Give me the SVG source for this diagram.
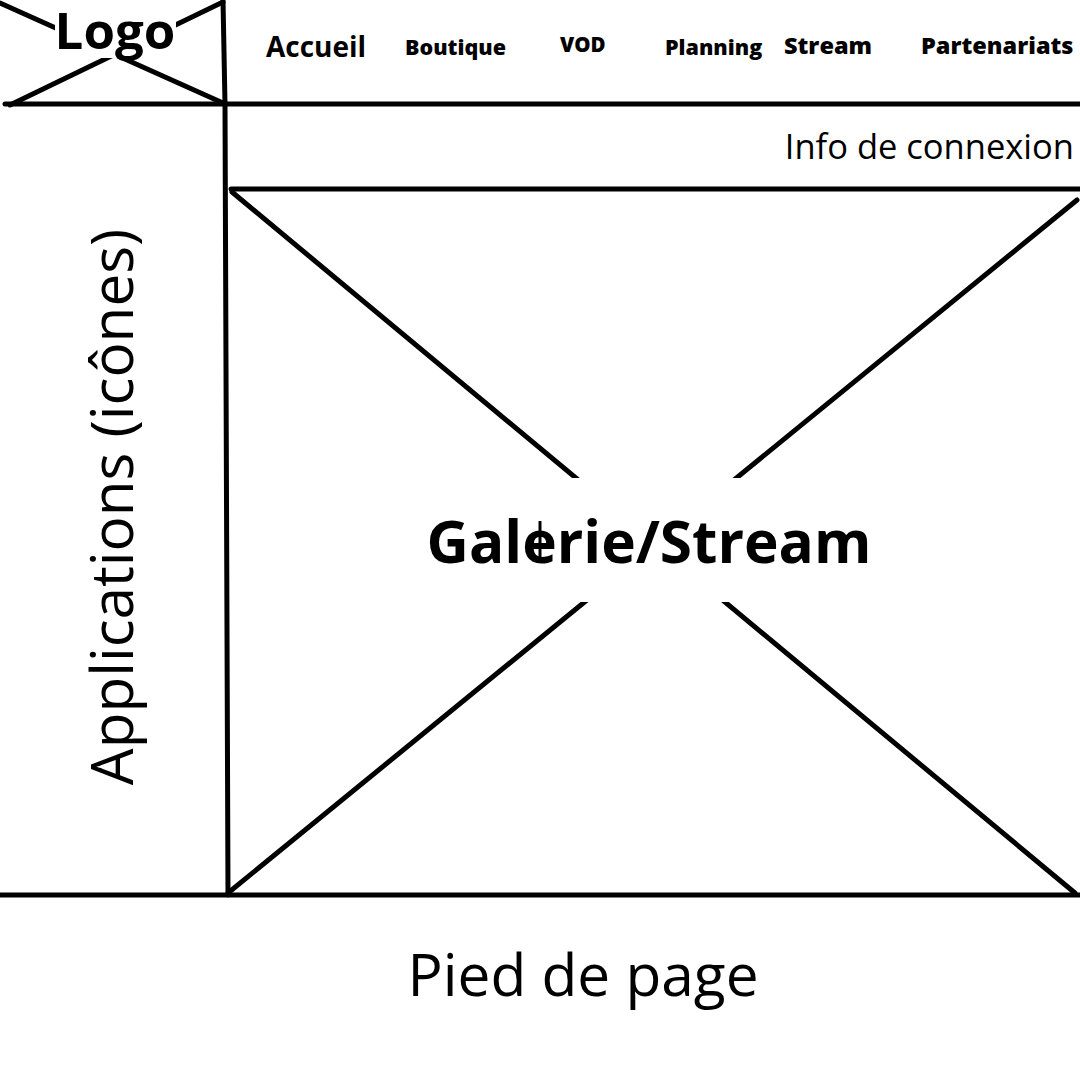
<svg xmlns="http://www.w3.org/2000/svg" width="1080" height="1080" viewBox="0 0 1080 1080">
  <style>
    .ln { stroke: #000; stroke-width: 5; fill: none; stroke-linecap: round; }
    .mask { fill: #fff; }
    .b { font-family: "Open Sans", "Liberation Sans", sans-serif; font-weight: 700; fill: #000; }
    .nav { font-family: "Open Sans", "Liberation Sans", sans-serif; font-weight: 800; fill: #000; }
    .r { font-family: "Open Sans", "Liberation Sans", sans-serif; font-weight: 400; fill: #000; }
  </style>
  <rect width="1080" height="1080" fill="#fff"/>

  <!-- frame lines of the page layout -->
  <g id="connectors">
    <line class="ln" x1="5" y1="104" x2="1080" y2="104"/>
    <line class="ln" x1="223" y1="0" x2="225" y2="104"/>
    <line class="ln" x1="225" y1="104" x2="228" y2="895"/>
    <line class="ln" x1="231" y1="189" x2="1080" y2="189"/>
    <line class="ln" x1="0" y1="895" x2="1080" y2="895"/>
  </g>

  <!-- logo placeholder -->
  <g id="logo">
    <line class="ln" x1="0" y1="3" x2="223" y2="103"/>
    <line class="ln" x1="10" y1="105" x2="223" y2="2"/>
    <rect class="mask" x="55" y="8" width="121" height="50"/>
    <text class="b" x="115" y="49" font-size="51" text-anchor="middle">Logo</text>
  </g>

  <!-- navigation -->
  <g id="nav-accueil"><text class="b" x="266" y="57" font-size="28" font-weight="600">Accueil</text></g>
  <g id="nav-boutique"><text class="nav" x="405" y="55" font-size="21.5">Boutique</text></g>
  <g id="nav-vod"><text class="nav" x="560" y="52" font-size="20.5">VOD</text></g>
  <g id="nav-planning"><text class="nav" x="665" y="55" font-size="21.5">Planning</text></g>
  <g id="nav-stream"><text class="nav" x="784" y="54" font-size="23.5">Stream</text></g>
  <g id="nav-partenariats"><text class="nav" x="921" y="54" font-size="23.5">Partenariats</text></g>

  <!-- login info -->
  <g id="info-connexion"><text class="r" x="1074" y="159" font-size="34.5" text-anchor="end">Info de connexion</text></g>

  <!-- side bar -->
  <g id="applications">
    <text class="r" transform="translate(133,507) rotate(-90)" font-size="58.4" text-anchor="middle">Applications (icônes)</text>
  </g>

  <!-- main gallery placeholder -->
  <g id="galerie">
    <line class="ln" x1="232" y1="192" x2="1075" y2="893"/>
    <line class="ln" x1="228" y1="893" x2="1077" y2="200"/>
    <rect class="mask" x="560" y="478" width="190" height="124"/>
    <text class="b" x="649" y="563" font-size="58.5" text-anchor="middle">Galerie/Stream</text>
    <line x1="540" y1="521" x2="540" y2="563" stroke="#000" stroke-width="3"/>
  </g>

  <!-- footer -->
  <g id="pied-de-page"><text class="r" x="583" y="996" font-size="58.6" text-anchor="middle">Pied de page</text></g>
</svg>
